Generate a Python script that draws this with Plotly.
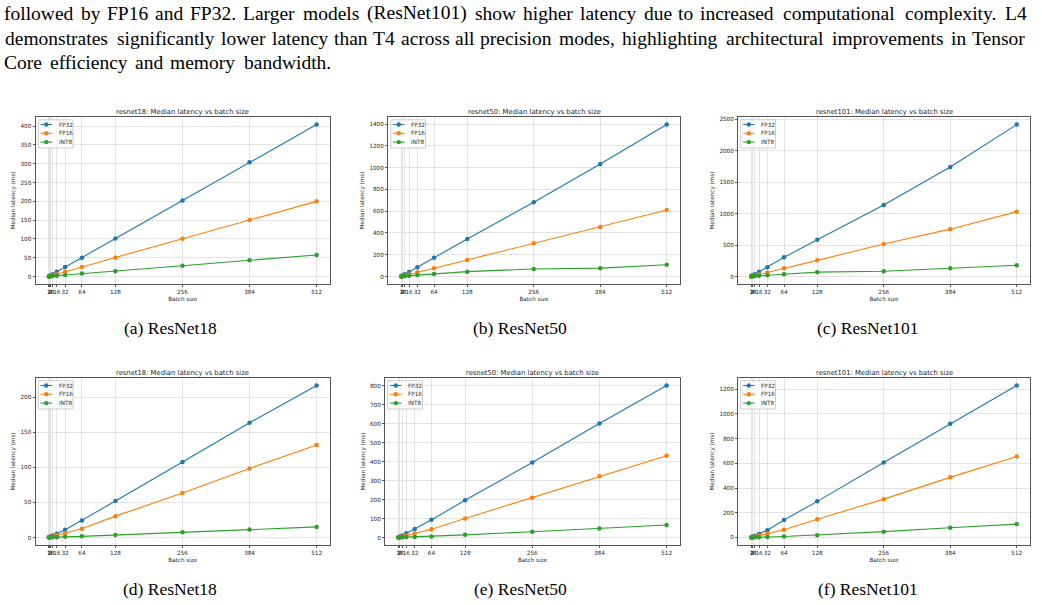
import plotly.graph_objects as go

# ---------------- data ----------------
batch_sizes = [1, 2, 4, 8, 16, 32, 64, 128, 256, 384, 512]
batch_tick_labels = ["1", "2", "4", "8", "16", "32", "64", "128", "256", "384", "512"]
precisions = ["FP32", "FP16", "INT8"]
series_colors = ["#1f77b4", "#ff7f0e", "#2ca02c"]

# T4 (top row)
t4_resnet18_fp32 = [0.8, 1.6, 3.2, 6.4, 12.7, 25.4, 50, 101, 202, 304, 404]
t4_resnet18_fp16 = [0.5, 0.9, 1.7, 3.3, 6.5, 13, 25.5, 51, 100.5, 150.5, 200]
t4_resnet18_int8 = [0.5, 0.7, 1.0, 1.6, 2.5, 4.2, 8, 14.5, 29, 43.5, 57.5]

t4_resnet50_fp32 = [2.9, 5.6, 11, 22, 43, 86, 172, 345, 683, 1033, 1395]
t4_resnet50_fp16 = [1.4, 2.6, 5, 10, 19.5, 38.5, 77, 153, 306, 456, 611]
t4_resnet50_int8 = [1.6, 2.2, 3.2, 5, 8, 13.5, 24, 45, 70, 77, 109]

t4_resnet101_fp32 = [5, 10, 19, 38, 75, 148, 305, 585, 1135, 1740, 2412]
t4_resnet101_fp16 = [2.5, 4.5, 9, 17, 33, 66, 130, 257, 515, 752, 1030]
t4_resnet101_int8 = [2, 3, 4.5, 7, 12, 20, 37, 70, 83, 133, 178]

# L4 (bottom row)
l4_resnet18_fp32 = [0.5, 0.8, 1.4, 2.8, 5.5, 11, 24.3, 52, 107.5, 163.5, 216.5]
l4_resnet18_fp16 = [0.3, 0.5, 0.9, 1.6, 3.1, 6, 12.5, 30.5, 63.5, 98.5, 132]
l4_resnet18_int8 = [0.2, 0.2, 0.3, 0.4, 0.6, 1.0, 1.7, 3.8, 7.5, 11.3, 15.2]

l4_resnet50_fp32 = [1.5, 3, 5.5, 11, 22, 45, 93, 196, 395, 600, 800]
l4_resnet50_fp16 = [1, 1.5, 3, 5.5, 11, 21, 44, 100, 210, 323, 431]
l4_resnet50_int8 = [0.5, 0.6, 0.8, 1.2, 2, 3, 5.5, 14, 30, 48, 66]

l4_resnet101_fp32 = [2, 4, 7, 14, 28, 59, 141, 292, 606, 919, 1228]
l4_resnet101_fp16 = [1, 2, 4, 8, 15, 30, 63, 147, 310, 486, 655]
l4_resnet101_int8 = [0.6, 0.8, 1, 1.5, 2.5, 4, 8, 19, 47, 79, 108]

panel_models = ["resnet18", "resnet50", "resnet101", "resnet18", "resnet50", "resnet101"]
panel_series = [
    [t4_resnet18_fp32, t4_resnet18_fp16, t4_resnet18_int8],
    [t4_resnet50_fp32, t4_resnet50_fp16, t4_resnet50_int8],
    [t4_resnet101_fp32, t4_resnet101_fp16, t4_resnet101_int8],
    [l4_resnet18_fp32, l4_resnet18_fp16, l4_resnet18_int8],
    [l4_resnet50_fp32, l4_resnet50_fp16, l4_resnet50_int8],
    [l4_resnet101_fp32, l4_resnet101_fp16, l4_resnet101_int8],
]
y_dticks = [50, 200, 500, 50, 100, 200]
captions = ["(a) ResNet18", "(b) ResNet50", "(c) ResNet101",
            "(d) ResNet18", "(e) ResNet50", "(f) ResNet101"]

text_lines = [
    "followed by FP16 and FP32. Larger models (ResNet101) show higher latency due to increased computational complexity. L4",
    "demonstrates significantly lower latency than T4 across all precision modes, highlighting architectural improvements in Tensor",
    "Core efficiency and memory bandwidth.",
]

# ---------------- layout geometry (pixels) ----------------
W, H = 1042, 605
panel_px = [  # left, top, right, bottom of each axes box
    (35.5, 117, 330, 284), (388, 117, 680, 284), (738, 117, 1030, 284),
    (35.5, 378, 330, 545), (385, 378, 680, 545), (738, 378, 1030, 545),
]
title_y_px = [112, 112, 112, 373, 373, 373]
caption_centers_px = [170, 520, 868, 170, 520, 868]
caption_baseline_px = [333, 333, 333, 594, 594, 594]


def px(x):
    return x / W


def py(y):
    return 1 - y / H


SANS = "DejaVu Sans"
SERIF = "Liberation Serif"
TXT = "#262626"
AX = "#555555"
GRID = "#e3e3e3"

fig = go.Figure()
annotations = []
shapes = []
layout_axes = {}

x_margin = 0.05 * (max(batch_sizes) - min(batch_sizes))
x_range = [min(batch_sizes) - x_margin, max(batch_sizes) + x_margin]

for i in range(6):
    n = "" if i == 0 else str(i + 1)
    l, t, r, b = panel_px[i]
    series = panel_series[i]
    for k in range(3):
        fig.add_trace(go.Scatter(
            x=batch_sizes, y=series[k], mode="lines+markers", name=precisions[k],
            line=dict(color=series_colors[k], width=1.1),
            marker=dict(color=series_colors[k], size=4.5),
            xaxis="x" + n, yaxis="y" + n, showlegend=False,
        ))
    allv = [v for s in series for v in s]
    ymin, ymax = min(allv), max(allv)
    ym = 0.05 * (ymax - ymin)
    common = dict(
        showline=True, mirror=True, linecolor=AX, linewidth=1,
        showgrid=True, gridcolor=GRID, gridwidth=1, zeroline=False,
        ticks="outside", ticklen=2, tickwidth=1, tickcolor=AX,
        tickfont=dict(family=SANS, size=5.7, color=TXT), tickangle=0,
    )
    layout_axes["xaxis" + n] = dict(
        domain=[px(l), px(r)], range=x_range, anchor="y" + n,
        tickmode="array", tickvals=batch_sizes, ticktext=batch_tick_labels,
        title=dict(text="Batch size", font=dict(family=SANS, size=5.7, color=TXT), standoff=3),
        **common,
    )
    layout_axes["yaxis" + n] = dict(
        domain=[py(b), py(t)], range=[ymin - ym, ymax + ym], anchor="x" + n,
        tick0=0, dtick=y_dticks[i],
        title=dict(text="Median latency (ms)", font=dict(family=SANS, size=5.7, color=TXT), standoff=4),
        **common,
    )
    # subplot title
    annotations.append(dict(
        text=f"{panel_models[i]}: Median latency vs batch size",
        x=px((l + r) / 2), y=py(title_y_px[i]), xref="paper", yref="paper",
        xanchor="center", yanchor="middle", showarrow=False,
        font=dict(family=SANS, size=6.8, color=TXT),
    ))
    # legend box
    shapes.append(dict(
        type="rect", xref="paper", yref="paper", layer="above",
        x0=px(l + 2.8), x1=px(l + 37.5), y0=py(t + 2.8), y1=py(t + 31),
        line=dict(color="#cccccc", width=1), fillcolor="rgba(255,255,255,0.8)",
    ))
    for k in range(3):
        ey = t + 7.5 + 8.8 * k
        shapes.append(dict(
            type="line", xref="paper", yref="paper", layer="above",
            x0=px(l + 5.1), x1=px(l + 16.5), y0=py(ey), y1=py(ey),
            line=dict(color=series_colors[k], width=1.1),
        ))
        shapes.append(dict(
            type="circle", xref="paper", yref="paper", layer="above",
            x0=px(l + 10.8 - 2.2), x1=px(l + 10.8 + 2.2), y0=py(ey - 2.2), y1=py(ey + 2.2),
            line=dict(color=series_colors[k], width=0), fillcolor=series_colors[k],
        ))
        annotations.append(dict(
            text=precisions[k], x=px(l + 21.1), y=py(ey), xref="paper", yref="paper",
            xanchor="left", yanchor="middle", showarrow=False,
            font=dict(family=SANS, size=5.7, color=TXT),
        ))
    # caption
    annotations.append(dict(
        text=captions[i], x=px(caption_centers_px[i]), y=py(caption_baseline_px[i] - 5.3),
        xref="paper", yref="paper", xanchor="center", yanchor="middle", showarrow=False,
        font=dict(family=SERIF, size=17.5, color="#000000"),
    ))

# ---------------- justified paragraph text ----------------
TIMES = {" ": 250, "(": 333, ")": 333, ".": 250, ",": 250,
         "A": 722, "B": 667, "C": 667, "D": 722, "E": 611, "F": 556, "G": 722, "H": 722,
         "I": 333, "L": 611, "M": 889, "N": 722, "P": 556, "R": 667, "S": 556, "T": 611,
         "a": 444, "b": 500, "c": 444, "d": 500, "e": 444, "f": 333, "g": 500, "h": 500,
         "i": 278, "j": 278, "k": 500, "l": 278, "m": 778, "n": 500, "o": 500, "p": 500,
         "q": 500, "r": 333, "s": 389, "t": 278, "u": 500, "v": 500, "w": 722, "x": 500,
         "y": 500, "z": 444}


def em(word):
    return sum(TIMES.get(c, 500) for c in word) / 1000.0


scale = 20.4           # px per em in the reference
line_left, line_right = 3, 1027
baselines = [19, 44, 68]
for li, line in enumerate(text_lines):
    words = line.split(" ")
    widths = [em(w) * scale for w in words]
    if li < len(text_lines) - 1:
        gap = (line_right - line_left - sum(widths)) / (len(words) - 1)
    else:
        gap = 0.25 * scale
    xcur = line_left
    for w, wd in zip(words, widths):
        annotations.append(dict(
            text=w, x=px(xcur + wd / 2), y=py(baselines[li] - 5.8),
            xref="paper", yref="paper", xanchor="center", yanchor="middle",
            showarrow=False, font=dict(family=SERIF, size=19.5, color="#000000"),
        ))
        xcur += wd + gap

fig.update_layout(
    width=W, height=H, margin=dict(l=0, r=0, t=0, b=0),
    paper_bgcolor="white", plot_bgcolor="white", showlegend=False,
    annotations=annotations, shapes=shapes, **layout_axes,
)

fig.write_html("out.html")
